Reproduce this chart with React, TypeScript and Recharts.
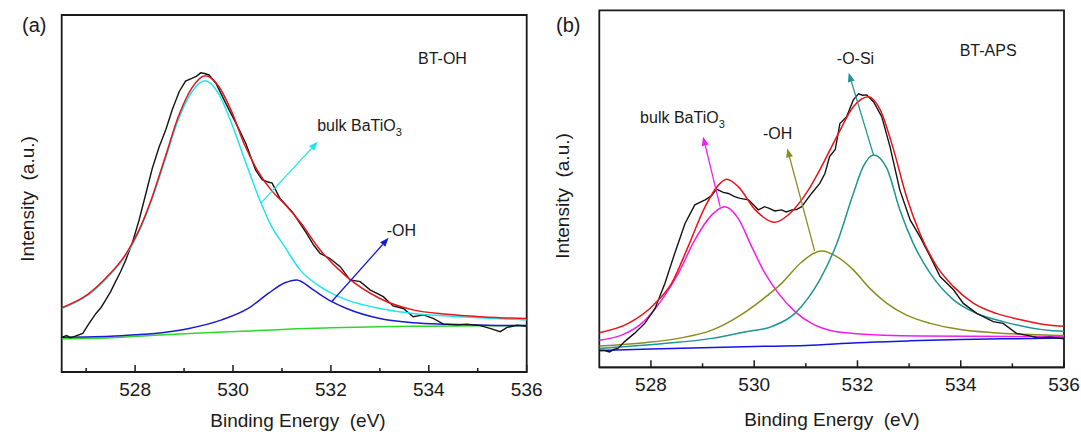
import React from 'react';
import { LineChart, Line, XAxis, YAxis, ReferenceArea, ReferenceLine, ReferenceDot } from 'recharts';

const FONT = '"Liberation Sans", Arial, Helvetica, sans-serif';
const INK = '#1a1a1a';

// ---------- Panel (a): BT-OH ----------
const aTicks = [527, 528, 529, 530, 531, 532, 533, 534, 535, 536];
const aRaw: [number, number][] = [
  [526.5, 9.7], [526.6, 10.2], [526.68, 9.6], [526.75, 9.9], [526.93, 10.8], [527.06, 13.6], [527.2, 16.4],
  [527.3, 18.0], [527.4, 20.2], [527.5, 22.5], [527.6, 25.3], [527.7, 28.0], [527.81, 31.4], [527.95, 36.5],
  [528.08, 42.5], [528.22, 50.0], [528.35, 57.0], [528.49, 63.0], [528.63, 68.0], [528.76, 73.5], [528.9, 78.5],
  [529.03, 81.5], [529.17, 82.3], [529.25, 82.8], [529.34, 83.8], [529.42, 83.6], [529.51, 83.2], [529.65, 80.9],
  [529.85, 75.3], [530.06, 69.7], [530.26, 64.1], [530.46, 56.6], [530.6, 53.8], [530.7, 53.3], [530.8, 52.9],
  [530.96, 48.6], [531.1, 46.5], [531.23, 44.5], [531.5, 38.9], [531.65, 35.5], [531.78, 33.2], [531.98, 31.8],
  [532.19, 29.5], [532.39, 25.8], [532.6, 25.3], [532.8, 23.0], [533.07, 21.1], [533.27, 18.5], [533.48, 17.8],
  [533.68, 15.5], [533.89, 16.0], [534.09, 15.0], [534.3, 13.4], [534.57, 13.2], [534.78, 13.4], [535.05, 13.0],
  [535.25, 12.2], [535.46, 11.3], [535.6, 12.5], [535.8, 13.1], [536, 12.8],
];
const aFit: [number, number][] = [
  [526.5, 18.0], [527.04, 21.8], [527.45, 27.0], [527.79, 32.6], [528.06, 39.2], [528.34, 48.7], [528.61, 60.0],
  [528.88, 71.4], [529.16, 79.6], [529.43, 83.0], [529.7, 80.2], [529.97, 73.0], [530.24, 63.5], [530.52, 56.0],
  [530.79, 50.8], [531.06, 47.0], [531.37, 42.0], [531.78, 34.2], [532.32, 26.7], [533.0, 20.6], [533.68, 17.4],
  [534.37, 16.2], [535.05, 15.5], [535.66, 15.1], [536, 15.0],
];
const aBulk: [number, number][] = [
  [526.5, 17.8], [527.04, 21.6], [527.45, 26.7], [527.79, 32.3], [528.06, 38.8], [528.34, 48.2], [528.61, 59.4],
  [528.88, 70.6], [529.16, 78.5], [529.43, 81.6], [529.7, 78.1], [529.97, 69.7], [530.24, 59.4], [530.52, 49.1],
  [530.79, 40.7], [531.06, 35.0], [531.37, 28.6], [531.78, 23.9], [532.32, 20.2], [533.0, 17.8], [533.68, 16.4],
  [534.37, 15.7], [535.05, 15.2], [535.66, 14.8], [536, 14.6],
];
const aOH: [number, number][] = [
  [526.5, 9.7], [527.0, 9.8], [527.5, 10.0], [528.0, 10.4], [528.4, 10.8], [529.1, 12.2], [529.77, 14.6],
  [530.31, 17.8], [530.72, 22.0], [531.06, 25.0], [531.3, 25.8], [531.64, 23.0], [531.98, 20.0], [532.32, 17.8],
  [533.0, 15.0], [533.68, 13.8], [534.37, 13.4], [535.0, 13.2], [535.66, 13.0], [536, 13.0],
];
const aBg: [number, number][] = [
  [526.5, 9.3], [527.5, 9.6], [528.4, 10.3], [529.43, 11.0], [530.5, 11.6], [531.3, 12.1], [532.0, 12.4],
  [533.0, 12.7], [534.0, 12.85], [535.0, 12.95], [536, 13.0],
];

// ---------- Panel (b): BT-APS ----------
const bTicks = [528, 529, 530, 531, 532, 533, 534, 535, 536];
const bRaw: [number, number][] = [
  [527.0, 4.7], [527.1, 4.7], [527.2, 4.3], [527.28, 5.0], [527.36, 5.3], [527.49, 7.2], [527.68, 9.5],
  [527.88, 12.3], [528.08, 16.5], [528.27, 23.5], [528.46, 31.9], [528.66, 40.3], [528.85, 45.5], [529.05, 46.9],
  [529.17, 48.0], [529.27, 49.9], [529.4, 49.0], [529.5, 48.7], [529.62, 47.8], [529.73, 47.3], [529.89, 46.9],
  [530.08, 44.1], [530.2, 45.0], [530.28, 44.6], [530.4, 43.8], [530.53, 44.1], [530.62, 43.5], [530.73, 44.1],
  [530.82, 44.2], [530.92, 45.0], [531.11, 48.7], [531.27, 51.5], [531.37, 54.3], [531.46, 59.0], [531.57, 61.0],
  [531.66, 68.3], [531.79, 70.2], [531.92, 74.9], [532.02, 76.6], [532.1, 76.2], [532.18, 76.3], [532.31, 74.4],
  [532.47, 70.2], [532.63, 61.8], [532.82, 49.7], [533.02, 41.3], [533.21, 36.6], [533.41, 31.0], [533.6, 25.4],
  [533.86, 21.7], [534.05, 17.9], [534.31, 15.1], [534.63, 12.8], [534.82, 12.3], [535.08, 9.5], [535.34, 8.8],
  [535.5, 8.2], [535.73, 8.4], [536, 8.0],
];
const bFit: [number, number][] = [
  [527.0, 9.7], [527.56, 12.3], [528.08, 17.9], [528.4, 23.5], [528.72, 33.8], [529.05, 45.0], [529.31, 51.1],
  [529.47, 52.7], [529.69, 50.6], [530.02, 44.1], [530.4, 40.6], [530.66, 42.7], [531.05, 49.7], [531.27, 55.3],
  [531.6, 64.6], [531.92, 73.0], [532.21, 75.8], [532.44, 72.1], [532.7, 60.9], [532.95, 47.8], [533.21, 37.5],
  [533.54, 28.2], [533.86, 22.6], [534.25, 17.9], [534.69, 15.1], [535.14, 13.4], [535.73, 11.8], [536, 11.5],
];
const bBulk: [number, number][] = [
  [527.0, 7.6], [527.43, 9.0], [527.82, 12.3], [528.21, 18.9], [528.53, 26.3], [528.85, 35.7], [529.18, 42.7],
  [529.43, 45.0], [529.69, 41.7], [529.95, 33.8], [530.21, 26.3], [530.47, 20.7], [530.79, 15.6], [531.11, 12.3],
  [531.57, 10.0], [531.92, 9.5], [533.21, 8.8], [535.73, 8.6], [536, 8.6],
];
const bOH: [number, number][] = [
  [527.0, 6.0], [527.88, 6.9], [528.53, 8.1], [529.18, 10.4], [529.69, 14.2], [530.15, 18.9], [530.53, 23.5],
  [530.92, 29.5], [531.31, 32.6], [531.6, 31.0], [531.92, 27.3], [532.24, 22.1], [532.57, 17.9], [532.95, 14.6],
  [533.41, 12.3], [533.99, 10.6], [534.63, 9.7], [535.73, 9.0], [536, 8.9],
];
const bOSi: [number, number][] = [
  [527.0, 5.3], [528.21, 6.6], [529.18, 8.1], [529.82, 9.9], [530.34, 11.4], [530.79, 15.1], [531.05, 19.5],
  [531.27, 24.5], [531.6, 34.7], [531.92, 48.7], [532.11, 56.2], [532.31, 59.5], [532.57, 55.7], [532.82, 44.1],
  [533.08, 34.7], [533.41, 26.3], [533.86, 18.9], [534.31, 15.1], [534.82, 12.8], [535.73, 10.3], [536, 10.1],
];
const bBg: [number, number][] = [
  [527.0, 4.7], [528.0, 5.1], [529.0, 5.5], [530.0, 5.85], [531.0, 6.1], [532.0, 6.9], [533.0, 7.4],
  [534.0, 7.8], [535.0, 8.0], [536, 8.2],
];

const pts = (arr: [number, number][]) => arr.map(([e, v]) => ({ e, v }));

const renderTick = (props: any) => {
  const { x, y, payload } = props;
  const val = payload.value;
  const major = val % 2 === 0;
  return (
    <g>
      <line x1={x} y1={y} x2={x} y2={y - (major ? 7 : 4)} stroke={INK} strokeWidth={1.5} />
      {major && (
        <text x={x} y={y + 23.5} textAnchor="middle" fontSize={19} fill={INK} fontFamily={FONT}>
          {val}
        </text>
      )}
    </g>
  );
};

const arrowShape = (color: string) => (p: any) => {
  const { x1, y1, x2, y2 } = p;
  const ang = Math.atan2(y2 - y1, x2 - x1);
  const L = 9;
  const W = 3.5;
  const bx = x2 - L * Math.cos(ang);
  const by = y2 - L * Math.sin(ang);
  const s = Math.sin(ang);
  const c = Math.cos(ang);
  const poly = `${x2},${y2} ${bx + W * s},${by - W * c} ${bx - W * s},${by + W * c}`;
  return (
    <g>
      <line x1={x1} y1={y1} x2={bx} y2={by} stroke={color} strokeWidth={1.3} />
      <polygon points={poly} fill={color} />
    </g>
  );
};

const textShape = (label: string, sub?: string) => (p: any) => (
  <text x={p.cx} y={p.cy} fontSize={16} fill={INK} fontFamily={FONT}>
    {label}
    {sub && (
      <tspan dy={5} fontSize={11}>
        {sub}
      </tspan>
    )}
  </text>
);

const line = (data: [number, number][], color: string, type: 'linear' | 'monotone' = 'monotone', w = 1.5) => (
  <Line
    data={pts(data)}
    dataKey="v"
    type={type}
    stroke={color}
    strokeWidth={w}
    dot={false}
    activeDot={false}
    isAnimationActive={false}
  />
);

const C = {
  black: '#141414',
  red: '#e8141a',
  cyan: '#1ee6ec',
  blue: '#1a1ad2',
  green: '#2ed62e',
  magenta: '#f21cf2',
  olive: '#8c8c1e',
  teal: '#1e9494',
  blue2: '#1414e6',
};

export default function App() {
  return (
    <div style={{ position: 'fixed', left: 0, top: 0, width: 1081, height: 432, background: '#fff', overflow: 'hidden' }}>
      <div style={{ position: 'absolute', left: 0, top: 0 }}>
        <LineChart width={560} height={432} margin={{ top: 15, right: 33.3, bottom: 30, left: 61.7 }}>
          <XAxis
            dataKey="e"
            type="number"
            domain={[526.5, 536]}
            ticks={aTicks}
            interval={0}
            height={30}
            tickSize={0}
            tickMargin={0}
            tickLine={false}
            axisLine={{ stroke: INK, strokeWidth: 1.8 }}
            tick={renderTick}
            allowDataOverflow
          />
          <YAxis type="number" domain={[0, 100]} hide width={0} allowDataOverflow />
          <ReferenceArea x1={526.5} x2={536} y1={0} y2={100} fill="none" stroke={INK} strokeWidth={1.8} />
          {line(aBg, C.green)}
          {line(aOH, C.blue)}
          {line(aRaw, C.black, 'linear', 1.4)}
          {line(aBulk, C.cyan)}
          {line(aFit, C.red)}
          <ReferenceLine segment={[{ x: 530.57, y: 47.3 }, { x: 531.73, y: 64.5 }]} shape={arrowShape(C.cyan)} />
          <ReferenceLine segment={[{ x: 532.01, y: 19.6 }, { x: 533.18, y: 37.6 }]} shape={arrowShape(C.blue)} />
          <ReferenceDot x={531.72} y={67.5} r={0} shape={textShape('bulk BaTiO', '3')} />
          <ReferenceDot x={533.78} y={86.3} r={0} shape={textShape('BT-OH')} />
          <ReferenceDot x={533.14} y={38.1} r={0} shape={textShape('-OH')} />
        </LineChart>
      </div>
      <div style={{ position: 'absolute', left: 540, top: 0 }}>
        <LineChart width={560} height={432} margin={{ top: 10.3, right: 36, bottom: 34.7, left: 59.3 }}>
          <XAxis
            dataKey="e"
            type="number"
            domain={[527, 536]}
            ticks={bTicks}
            interval={0}
            height={30}
            tickSize={0}
            tickMargin={0}
            tickLine={false}
            axisLine={{ stroke: INK, strokeWidth: 1.8 }}
            tick={renderTick}
            allowDataOverflow
          />
          <YAxis type="number" domain={[0, 100]} hide width={0} allowDataOverflow />
          <ReferenceArea x1={527} x2={536} y1={0} y2={100} fill="none" stroke={INK} strokeWidth={1.8} />
          {line(bBg, C.blue2)}
          {line(bBulk, C.magenta)}
          {line(bOH, C.olive)}
          {line(bOSi, C.teal)}
          {line(bRaw, C.black, 'linear', 1.4)}
          {line(bFit, C.red)}
          <ReferenceLine segment={[{ x: 529.34, y: 45.0 }, { x: 529.01, y: 64.6 }]} shape={arrowShape(C.magenta)} />
          <ReferenceLine segment={[{ x: 531.17, y: 32.6 }, { x: 530.64, y: 61.3 }]} shape={arrowShape(C.olive)} />
          <ReferenceLine segment={[{ x: 532.31, y: 59.5 }, { x: 531.83, y: 82.5 }]} shape={arrowShape(C.teal)} />
          <ReferenceDot x={527.79} y={68.5} r={0} shape={textShape('bulk BaTiO', '3')} />
          <ReferenceDot x={530.17} y={63.9} r={0} shape={textShape('-OH')} />
          <ReferenceDot x={531.6} y={84.9} r={0} shape={textShape('-O-Si')} />
          <ReferenceDot x={533.98} y={87.2} r={0} shape={textShape('BT-APS')} />
        </LineChart>
      </div>
      <svg
        width={1081}
        height={432}
        style={{ position: 'absolute', left: 0, top: 0, pointerEvents: 'none' }}
        fontFamily={FONT}
        fill={INK}
      >
        <text x={22} y={32} fontSize={20}>(a)</text>
        <text x={556} y={32} fontSize={20}>(b)</text>
        <text x={298} y={427} fontSize={19} textAnchor="middle">Binding Energy&#160;&#160;(eV)</text>
        <text x={832} y={426} fontSize={19} textAnchor="middle">Binding Energy&#160;&#160;(eV)</text>
        <text x={27} y={199} fontSize={19} textAnchor="middle" dominantBaseline="central" transform="rotate(-90 27 199)">
          Intensity&#160;&#160;(a.u.)
        </text>
        <text x={562} y={196} fontSize={19} textAnchor="middle" dominantBaseline="central" transform="rotate(-90 562 196)">
          Intensity&#160;&#160;(a.u.)
        </text>
      </svg>
    </div>
  );
}
